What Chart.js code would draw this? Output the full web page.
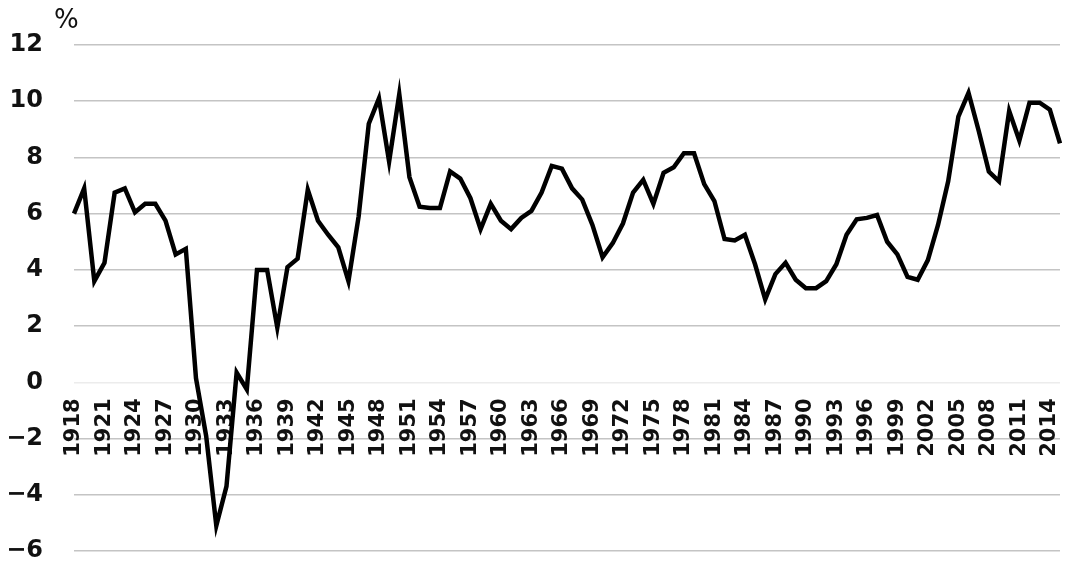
<!DOCTYPE html>
<html>
<head>
<meta charset="utf-8">
<script src="https://cdn.jsdelivr.net/npm/chart.js@4.4.1/dist/chart.umd.min.js"></script>
<style>
  html, body { margin: 0; padding: 0; background: #ffffff; }
  #wrap { width: 1080px; height: 573px; position: relative; }
</style>
</head>
<body>
<div id="wrap"><canvas id="c"></canvas></div>
<script>
const years = [];
for (let y = 1918; y <= 2015; y++) years.push(String(y));

const values = [
  6.0, 6.9, 3.6, 4.25, 6.75, 6.9, 6.05, 6.35, 6.35, 5.75,
  4.55, 4.75, 0.15, -1.9, -5.1, -3.7, 0.35, -0.25, 4.0, 4.0,
  1.95, 4.1, 4.4, 6.85, 5.75, 5.25, 4.8, 3.6, 5.9, 9.2,
  10.1, 7.85, 10.25, 7.3, 6.25, 6.2, 6.2, 7.5, 7.25, 6.55,
  5.45, 6.35, 5.75, 5.45, 5.85, 6.1, 6.75, 7.7, 7.6, 6.9,
  6.5, 5.6, 4.45, 4.95, 5.65, 6.75, 7.2, 6.35, 7.45, 7.65,
  8.15, 8.15, 7.05, 6.45, 5.1, 5.05, 5.25, 4.2, 2.95, 3.85,
  4.25, 3.65, 3.35, 3.35, 3.6, 4.2, 5.25, 5.8, 5.85, 5.95,
  5.0, 4.55, 3.75, 3.65, 4.35, 5.6, 7.15, 9.45, 10.3, 8.95,
  7.5, 7.15, 9.65, 8.6, 9.95, 9.95, 9.7, 8.5
];

const xTickLabels = [
  "1918","1921","1924","1927","1930","1933","1936","1939","1942","1945",
  "1948","1951","1954","1957","1960","1963","1966","1969","1972","1975",
  "1978","1981","1984","1987","1990","1993","1996","1999","2002","2005",
  "2008","2011","2014"
];
const yTickValues = [-6, -4, -2, 0, 2, 4, 6, 8, 10, 12];
const unitLabel = "%";

const unitPlugin = {
  id: 'unitLabel',
  afterDraw(chart) {
    const ctx = chart.ctx;
    ctx.save();
    ctx.font = '26px "DejaVu Sans", sans-serif';
    ctx.fillStyle = '#111';
    ctx.textAlign = 'left';
    ctx.textBaseline = 'alphabetic';
    ctx.fillText(unitLabel, 54, 28);
    ctx.restore();
  }
};

function zeroPad(s) {
  s.paddingLeft = 0; s.paddingRight = 0; s.paddingTop = 0; s.paddingBottom = 0;
}

new Chart(document.getElementById('c'), {
  type: 'line',
  data: {
    labels: years,
    datasets: [{
      data: values,
      borderColor: '#000000',
      borderWidth: 4.5,
      pointRadius: 0,
      tension: 0,
      fill: false
    }]
  },
  options: {
    responsive: true,
    maintainAspectRatio: false,
    animation: false,
    layout: { padding: { left: 0, right: 20, top: 45, bottom: 22 } },
    plugins: { legend: { display: false }, tooltip: { enabled: false } },
    scales: {
      x: {
        type: 'category',
        position: { y: 0 },
        offset: false,
        afterFit: zeroPad,
        grid: { display: false, drawTicks: false },
        border: { display: false },
        ticks: {
          autoSkip: false,
          maxRotation: 90,
          minRotation: 90,
          padding: 16,
          color: '#111',
          font: { family: 'DejaVu Sans', size: 21, weight: 'bold' },
          callback: function(v) {
            const lab = this.getLabelForValue(v);
            return xTickLabels.includes(lab) ? lab : '';
          }
        }
      },
      y: {
        min: -6,
        max: 12,
        afterFit: s => { s.width = 74; zeroPad(s); },
        afterBuildTicks: s => { s.ticks = yTickValues.map(v => ({ value: v })); },
        grid: {
          drawTicks: false,
          lineWidth: 1.5,
          color: c => (c.tick && c.tick.value === 0) ? '#ececec' : '#c4c4c4'
        },
        border: { display: false },
        ticks: {
          padding: 31,
          color: '#111',
          font: { family: 'DejaVu Sans', size: 24, weight: 'bold' },
          callback: v => (v < 0 ? '\u2212' + Math.abs(v) : String(v))
        }
      }
    }
  },
  plugins: [unitPlugin]
});
</script>
</body>
</html>
